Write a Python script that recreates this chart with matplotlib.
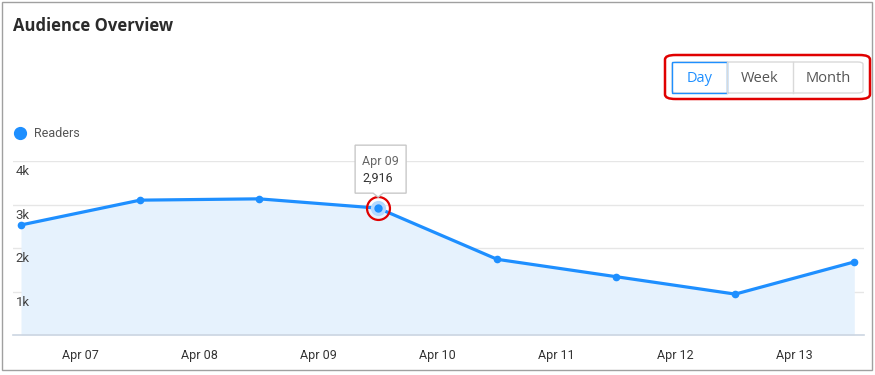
import matplotlib.pyplot as plt
import matplotlib.transforms as mtransforms
from matplotlib.patches import Rectangle, FancyBboxPatch, Polygon
from matplotlib.lines import Line2D

# data
days = ["Apr 06", "Apr 07", "Apr 08", "Apr 09", "Apr 10", "Apr 11", "Apr 12", "Apr 13"]
readers = [2530, 3100, 3130, 2916, 1740, 1340, 940, 1680]
tick_labels = ["Apr 07", "Apr 08", "Apr 09", "Apr 10", "Apr 11", "Apr 12", "Apr 13"]
yticks = [1000, 2000, 3000, 4000]
ytick_labels = ["1k", "2k", "3k", "4k"]
buttons = ["Day", "Week", "Month"]
hl_idx = 3

W, H = 875, 375
BLUE = "#1e8fff"
plt.rcParams['font.family'] = ['Roboto', 'DejaVu Sans']

fig = plt.figure(figsize=(W / 100, H / 100), dpi=100)


def fx(x):
    return x / W


def fy(y):
    return 1 - y / H


# card border
fig.add_artist(Rectangle((fx(2), fy(370)), fx(870), (368) / H, transform=fig.transFigure,
                         fill=False, ec="#a0a0a0", lw=1))
fig.text(fx(13), fy(26), "Audience Overview", fontsize=12, fontweight="bold",
         family="Open Sans", color="#2b2b2b", va="center", ha="left")

# axes
ax = fig.add_axes([fx(13), fy(335), (864 - 13) / W, (335 - 161) / H])
xs = list(range(len(readers)))
ax.set_xlim(-8 / 119.04, (864 - 21) / 119.04)
ax.set_ylim(0, 4000)
ax.fill_between(xs, readers, 0, color="#e6f2fd", lw=0, zorder=1)
ax.plot(xs, readers, color=BLUE, lw=2.3, marker="o", ms=4.5, zorder=3,
        solid_joinstyle="round")

for s in ["top", "right", "left"]:
    ax.spines[s].set_visible(False)
ax.spines["bottom"].set_color("#ccd6e2")
ax.spines["bottom"].set_linewidth(1.2)
ax.set_yticks(yticks)
ax.set_yticklabels([])
ax.tick_params(axis="y", length=0)
ax.grid(axis="y", color="#e6e6e6", lw=1)
ax.set_axisbelow(True)
ylab_trans = mtransforms.offset_copy(ax.get_yaxis_transform(), fig=fig, x=0, y=-11, units="dots")
for v, lab in zip(yticks, ytick_labels):
    ax.text(0.003, v, lab, transform=ylab_trans, ha="left", va="center",
            fontsize=9.5, color="#444444")
ax.set_xticks([i + 0.5 for i in range(len(tick_labels))])
ax.set_xticklabels(tick_labels, fontsize=9, color="#333333")
ax.tick_params(axis="x", length=0, pad=10)

# highlighted point
ax.plot([xs[hl_idx]], [readers[hl_idx]], marker="o", ms=11, color="#b5d9ff", mec="none", zorder=4)
ax.plot([xs[hl_idx]], [readers[hl_idx]], marker="o", ms=5, color=BLUE, zorder=5)
ax.plot([xs[hl_idx]], [readers[hl_idx]], marker="o", ms=16.5, mfc="none", mec="#e00000",
        mew=1.6, zorder=6)

# tooltip, offsets in pixels from the point
pt = mtransforms.Affine2D() + mtransforms.ScaledTranslation(xs[hl_idx], readers[hl_idx], ax.transData)
tip = Polygon([(-23, 15), (-5, 15), (0, 11), (5, 15), (28, 15), (28, 63), (-23, 63)],
              closed=True, fc="white", ec="#c8c8c8", lw=1, transform=pt, zorder=7, clip_on=False)
ax.add_patch(tip)
ax.text(-16, 47, days[hl_idx], transform=pt, fontsize=9, color="#666666", va="center",
        ha="left", zorder=8, clip_on=False)
ax.text(-16, 30, f"{readers[hl_idx]:,}", transform=pt, fontsize=9, color="#333333",
        va="center", ha="left", zorder=8, clip_on=False)

# legend
handle = Line2D([], [], marker="o", ls="none", color=BLUE, ms=8.5, label="Readers")
leg = fig.legend(handles=[handle], loc="center left", bbox_to_anchor=(fx(14), fy(134)),
                 frameon=False, fontsize=9, handletextpad=0.6, handlelength=1.0,
                 borderpad=0, borderaxespad=0)
for t in leg.get_texts():
    t.set_color("#555555")

# button group
bx = [672, 727, 793, 863]
fig.add_artist(FancyBboxPatch((fx(672), fy(93)), fx(863 - 672), (93 - 62) / H,
                              boxstyle="round,pad=0,rounding_size=0.006",
                              transform=fig.transFigure, fc="white", ec="#d9d9d9", lw=1))
for i, b in enumerate(buttons):
    if i > 0:
        fig.add_artist(Line2D([fx(bx[i]), fx(bx[i])], [fy(62), fy(93)], color="#d9d9d9",
                              lw=1, transform=fig.transFigure))
    col = "#555555"
    if i == 0:
        fig.add_artist(Rectangle((fx(672), fy(93)), fx(727 - 672), (93 - 62) / H,
                                 transform=fig.transFigure, fill=False, ec=BLUE, lw=1))
        col = BLUE
    fig.text(fx((bx[i] + bx[i + 1]) / 2), fy(78), b, ha="center", va="center",
             fontsize=10.5, color=col, family="Open Sans")
fig.add_artist(FancyBboxPatch((fx(665), fy(99)), fx(870 - 665), (99 - 55) / H,
                              boxstyle="round,pad=0,rounding_size=0.012",
                              transform=fig.transFigure, fill=False, ec="#e00000", lw=1.8))

fig.savefig("out.png", dpi=100)
